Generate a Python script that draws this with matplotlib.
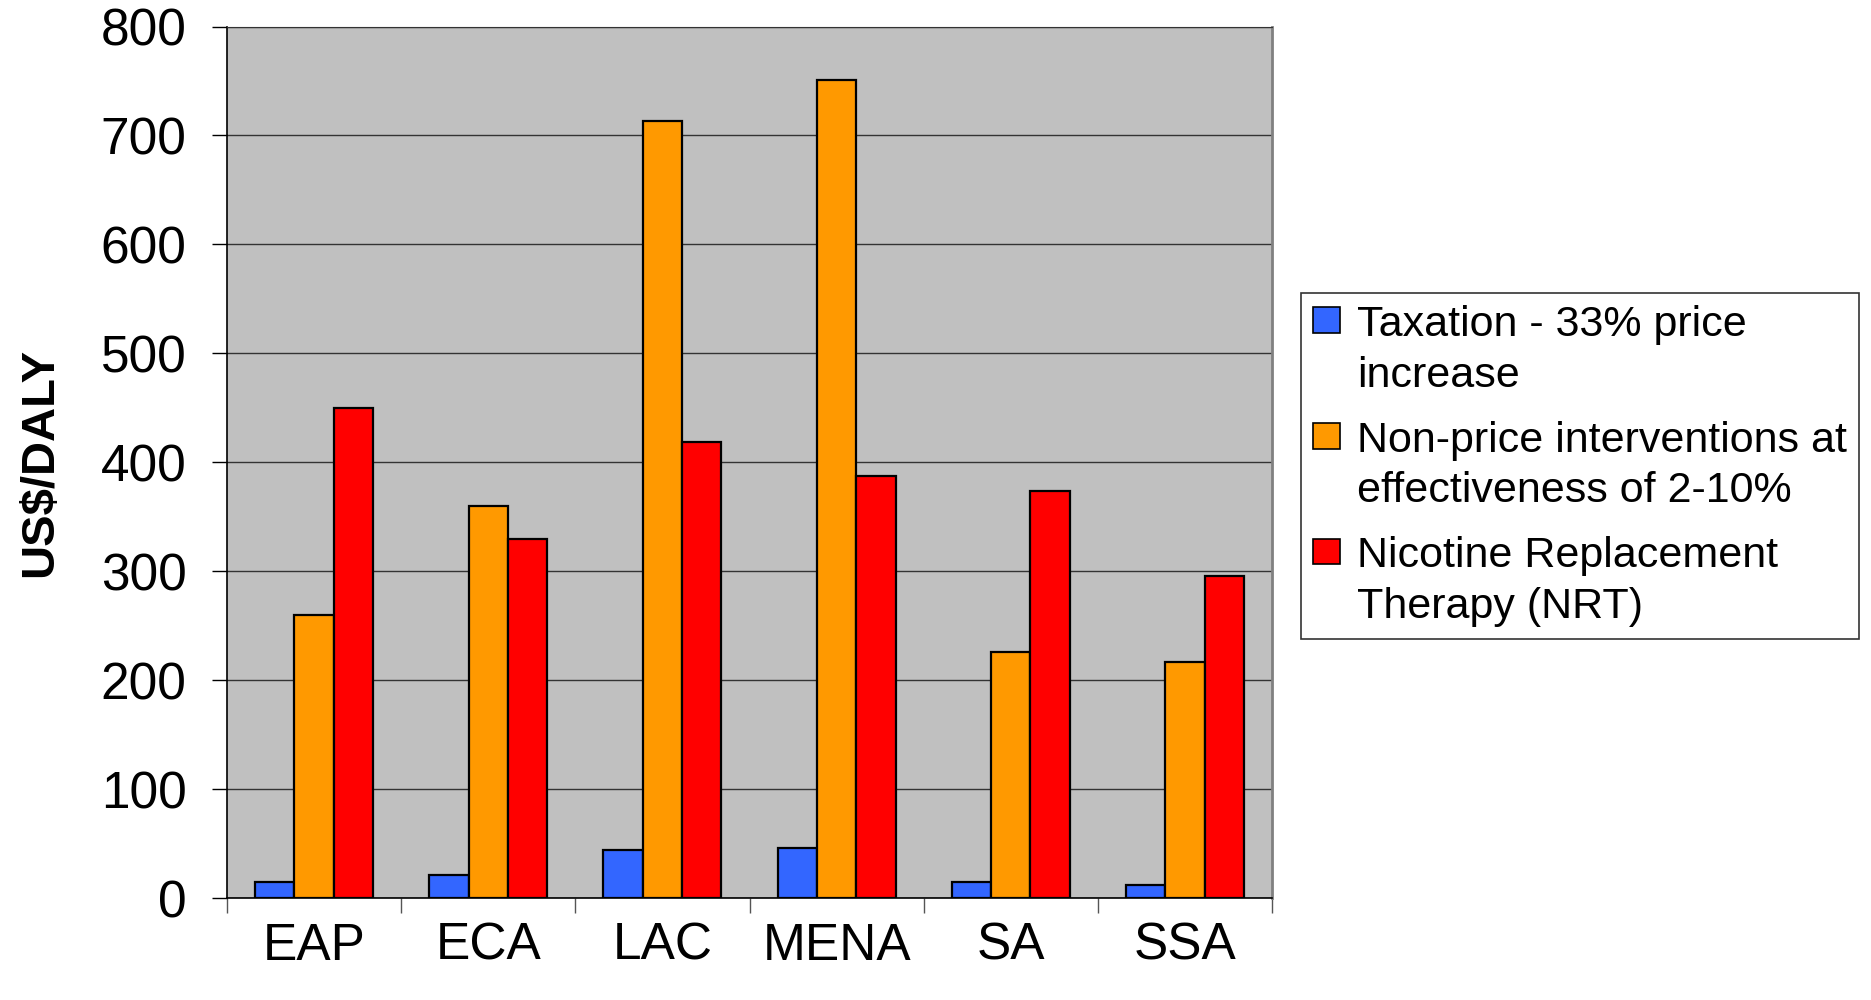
import matplotlib
matplotlib.use("Agg")
import matplotlib.pyplot as plt
import numpy as np
from matplotlib.patches import Rectangle
from matplotlib.legend_handler import HandlerPatch

regions = ["EAP", "ECA", "LAC", "MENA", "SA", "SSA"]  # world bank regions
taxation = [15, 21, 44, 46, 15, 12]  # taxation - 33% price increase
non_price = [260, 360, 713, 751, 226, 217]  # non-price interventions
nrt = [450, 330, 419, 387, 374, 296]  # nicotine replacement therapy
series_names = ["Taxation - 33% price\nincrease",
                "Non-price interventions at\neffectiveness of 2-10%",
                "Nicotine Replacement\nTherapy (NRT)"]
series_colors = ["#3366FF", "#FF9900", "#FF0000"]
y_ticks = [0, 100, 200, 300, 400, 500, 600, 700, 800]

plt.rcParams['font.family'] = ['Liberation Sans', 'DejaVu Sans']

fig = plt.figure(figsize=(18.71, 10), dpi=100)
ax = fig.add_axes([0.1213, 0.102, 0.5586, 0.8715])
ax.set_facecolor("#C0C0C0")

x = np.arange(len(regions))
w = 0.226
for i, vals in enumerate([taxation, non_price, nrt]):
    ax.bar(x + (i - 1) * w, vals, w, color=series_colors[i], edgecolor="black",
           linewidth=1.6, label=series_names[i], zorder=3)

ax.set_xlim(-0.5, len(regions) - 0.5)
ax.set_ylim(0, 800)
ax.set_yticks(y_ticks)
ax.yaxis.grid(True, color="#333333", linewidth=1.0, zorder=1)
ax.set_axisbelow(True)

# category labels between boundary ticks
ax.set_xticks(np.arange(-0.5, len(regions), 1.0))
ax.set_xticklabels([])
ax.set_xticks(x, minor=True)
ax.set_xticklabels(regions, minor=True, fontsize=37)
ax.tick_params(axis="x", which="minor", length=0, pad=17)
ax.tick_params(axis="x", which="major", length=11, width=1, color="#555555")
ax.tick_params(axis="y", labelsize=37, length=11, width=1, pad=18)

for s in ["left", "bottom"]:
    ax.spines[s].set_color("black")
    ax.spines[s].set_linewidth(1.2)
ax.spines["right"].set_color("#808080")
ax.spines["right"].set_linewidth(2)
ax.spines["top"].set_color("#333333")

ax.set_ylabel("US$/DALY", fontsize=34, fontweight="bold")
ax.yaxis.set_label_coords(-0.158, 0.5)


def square(legend, orig_handle, xdescent, ydescent, width, height, fontsize):
    # put the swatch next to the first line of the label
    return Rectangle((-xdescent, -ydescent + 0.7 * fontsize), width, height)


leg = fig.legend(loc="upper left", bbox_to_anchor=(0.6954, 0.707), fontsize=31,
                 frameon=True, fancybox=False, handlelength=0.62, handleheight=0.55,
                 handletextpad=0.4, labelspacing=0.58, borderpad=0.28, borderaxespad=0,
                 handler_map={Rectangle: HandlerPatch(patch_func=square)},
                 handles=[Rectangle((0, 0), 1, 1, facecolor=c, edgecolor="black", linewidth=1.2)
                          for c in series_colors],
                 labels=series_names)
leg.get_frame().set_edgecolor("black")
leg.get_frame().set_linewidth(1.2)
for t in leg.get_texts():
    t.set_linespacing(1.34)

fig.savefig("out.png", dpi=100)
